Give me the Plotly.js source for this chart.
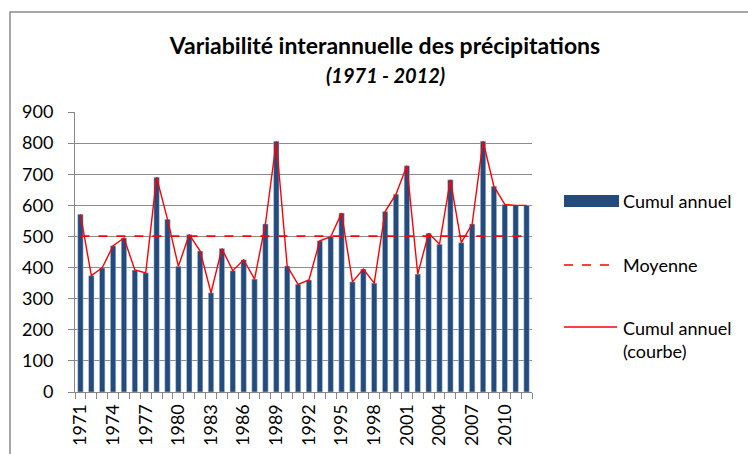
<!DOCTYPE html>
<html>
<head>
<meta charset="utf-8">
<script src="https://cdn.plot.ly/plotly-3.0.1.min.js"></script>
<style>
  html, body { margin: 0; padding: 0; background: #fff; }
  #chart { width: 748px; height: 454px; }
</style>
</head>
<body>
<div id="chart"></div>
<script>
const annees = ["1971","1972","1973","1974","1975","1976","1977","1978","1979","1980",
  "1981","1982","1983","1984","1985","1986","1987","1988","1989","1990",
  "1991","1992","1993","1994","1995","1996","1997","1998","1999","2000",
  "2001","2002","2003","2004","2005","2006","2007","2008","2009","2010",
  "2011","2012"];
const cumulAnnuel = [571,374,399,470,495,392,383,690,555,404,
  506,453,319,461,390,425,363,540,806,405,
  346,360,486,499,575,354,395,350,580,636,
  727,379,510,475,682,480,540,806,661,603,
  600,600];
const moyenne = 501;
const yTicks = [0,100,200,300,400,500,600,700,800,900];
const legendLabels = ["Cumul annuel", "Moyenne", "Cumul annuel<br>(courbe)"];

const FONT = "Lato, 'Open Sans', sans-serif";
const BLUE = "#234b7e";
const RED = "#ff0000";

// pixel helpers for the plot area (l=75, r=532, t=112, b=392)
const px = p => (p - 75) / 457;
const py = p => (392 - p) / 280;

const traces = [
  {
    type: "bar", name: legendLabels[0], x: annees, y: cumulAnnuel,
    marker: { color: BLUE, line: { color: "#c9d6e8", width: 0.5 } },
    showlegend: false
  },
  {
    type: "scatter", mode: "lines", name: "Moyenne",
    x: [annees[0], annees[annees.length - 1]], y: [moyenne, moyenne],
    line: { color: RED, width: 1.6, dash: "dash" },
    showlegend: false
  },
  {
    type: "scatter", mode: "lines", name: "Cumul annuel (courbe)",
    x: annees, y: cumulAnnuel,
    line: { color: RED, width: 1.4 },
    showlegend: false
  }
];

const layout = {
  width: 748, height: 454,
  margin: { l: 75, r: 216, t: 112, b: 62 },
  paper_bgcolor: "#fff", plot_bgcolor: "#fff",
  font: { family: FONT, size: 18, color: "#000" },
  title: {
    text: "<b>Variabilité interannuelle des précipitations</b>",
    font: { family: FONT, size: 23, color: "#000" },
    x: 385 / 748, xref: "container", xanchor: "center",
    y: 1 - 46 / 454, yref: "container", yanchor: "middle"
  },
  bargap: 0.5,
  showlegend: false,
  xaxis: {
    type: "category",
    tickangle: -90,
    dtick: 1,
    ticklabelstep: 3,
    tickson: "boundaries",
    ticks: "outside", ticklen: 6, tickcolor: "#888",
    ticklabelstandoff: 4,
    showline: true, linecolor: "#888", linewidth: 1,
    showgrid: false,
    tickfont: { family: FONT, size: 18, color: "#000" }
  },
  yaxis: {
    range: [0, 900],
    tickvals: yTicks,
    ticks: "outside", ticklen: 6, tickcolor: "#888",
    ticklabelstandoff: 11,
    showline: true, linecolor: "#888", linewidth: 1,
    showgrid: true, gridcolor: "#8c8c8c", gridwidth: 1,
    zeroline: false,
    tickfont: { family: FONT, size: 18, color: "#000" }
  },
  annotations: [
    {
      text: "<b><i>(1971 - 2012)</i></b>", xref: "paper", yref: "paper",
      x: px(385), y: py(75), xanchor: "center", yanchor: "middle",
      showarrow: false, font: { family: FONT, size: 20, color: "#000" }
    },
    {
      text: legendLabels[0], xref: "paper", yref: "paper",
      x: px(621), y: py(201), xanchor: "left", yanchor: "middle", align: "left",
      showarrow: false, font: { family: FONT, size: 18, color: "#000" }
    },
    {
      text: legendLabels[1], xref: "paper", yref: "paper",
      x: px(621), y: py(265), xanchor: "left", yanchor: "middle", align: "left",
      showarrow: false, font: { family: FONT, size: 18, color: "#000" }
    },
    {
      text: legendLabels[2], xref: "paper", yref: "paper",
      x: px(621), y: py(339), xanchor: "left", yanchor: "middle", align: "left",
      showarrow: false, font: { family: FONT, size: 18, color: "#000" }
    }
  ],
  shapes: [
    {
      type: "rect", xref: "paper", yref: "paper",
      x0: px(10), x1: 1.6, y0: -0.3, y1: py(12),
      line: { color: "#8a8a8a", width: 1.5 }, fillcolor: "rgba(0,0,0,0)", layer: "below"
    },
    {
      type: "rect", xref: "paper", yref: "paper",
      x0: px(564), x1: px(619), y0: py(207), y1: py(195),
      line: { width: 0 }, fillcolor: BLUE
    },
    {
      type: "line", xref: "paper", yref: "paper",
      x0: px(564), x1: px(617), y0: py(265), y1: py(265),
      line: { color: RED, width: 1.6, dash: "dash" }
    },
    {
      type: "line", xref: "paper", yref: "paper",
      x0: px(564), x1: px(617), y0: py(327), y1: py(327),
      line: { color: RED, width: 1.6 }
    }
  ]
};

Plotly.newPlot("chart", traces, layout, { displayModeBar: false, staticPlot: true });
</script>
</body>
</html>
